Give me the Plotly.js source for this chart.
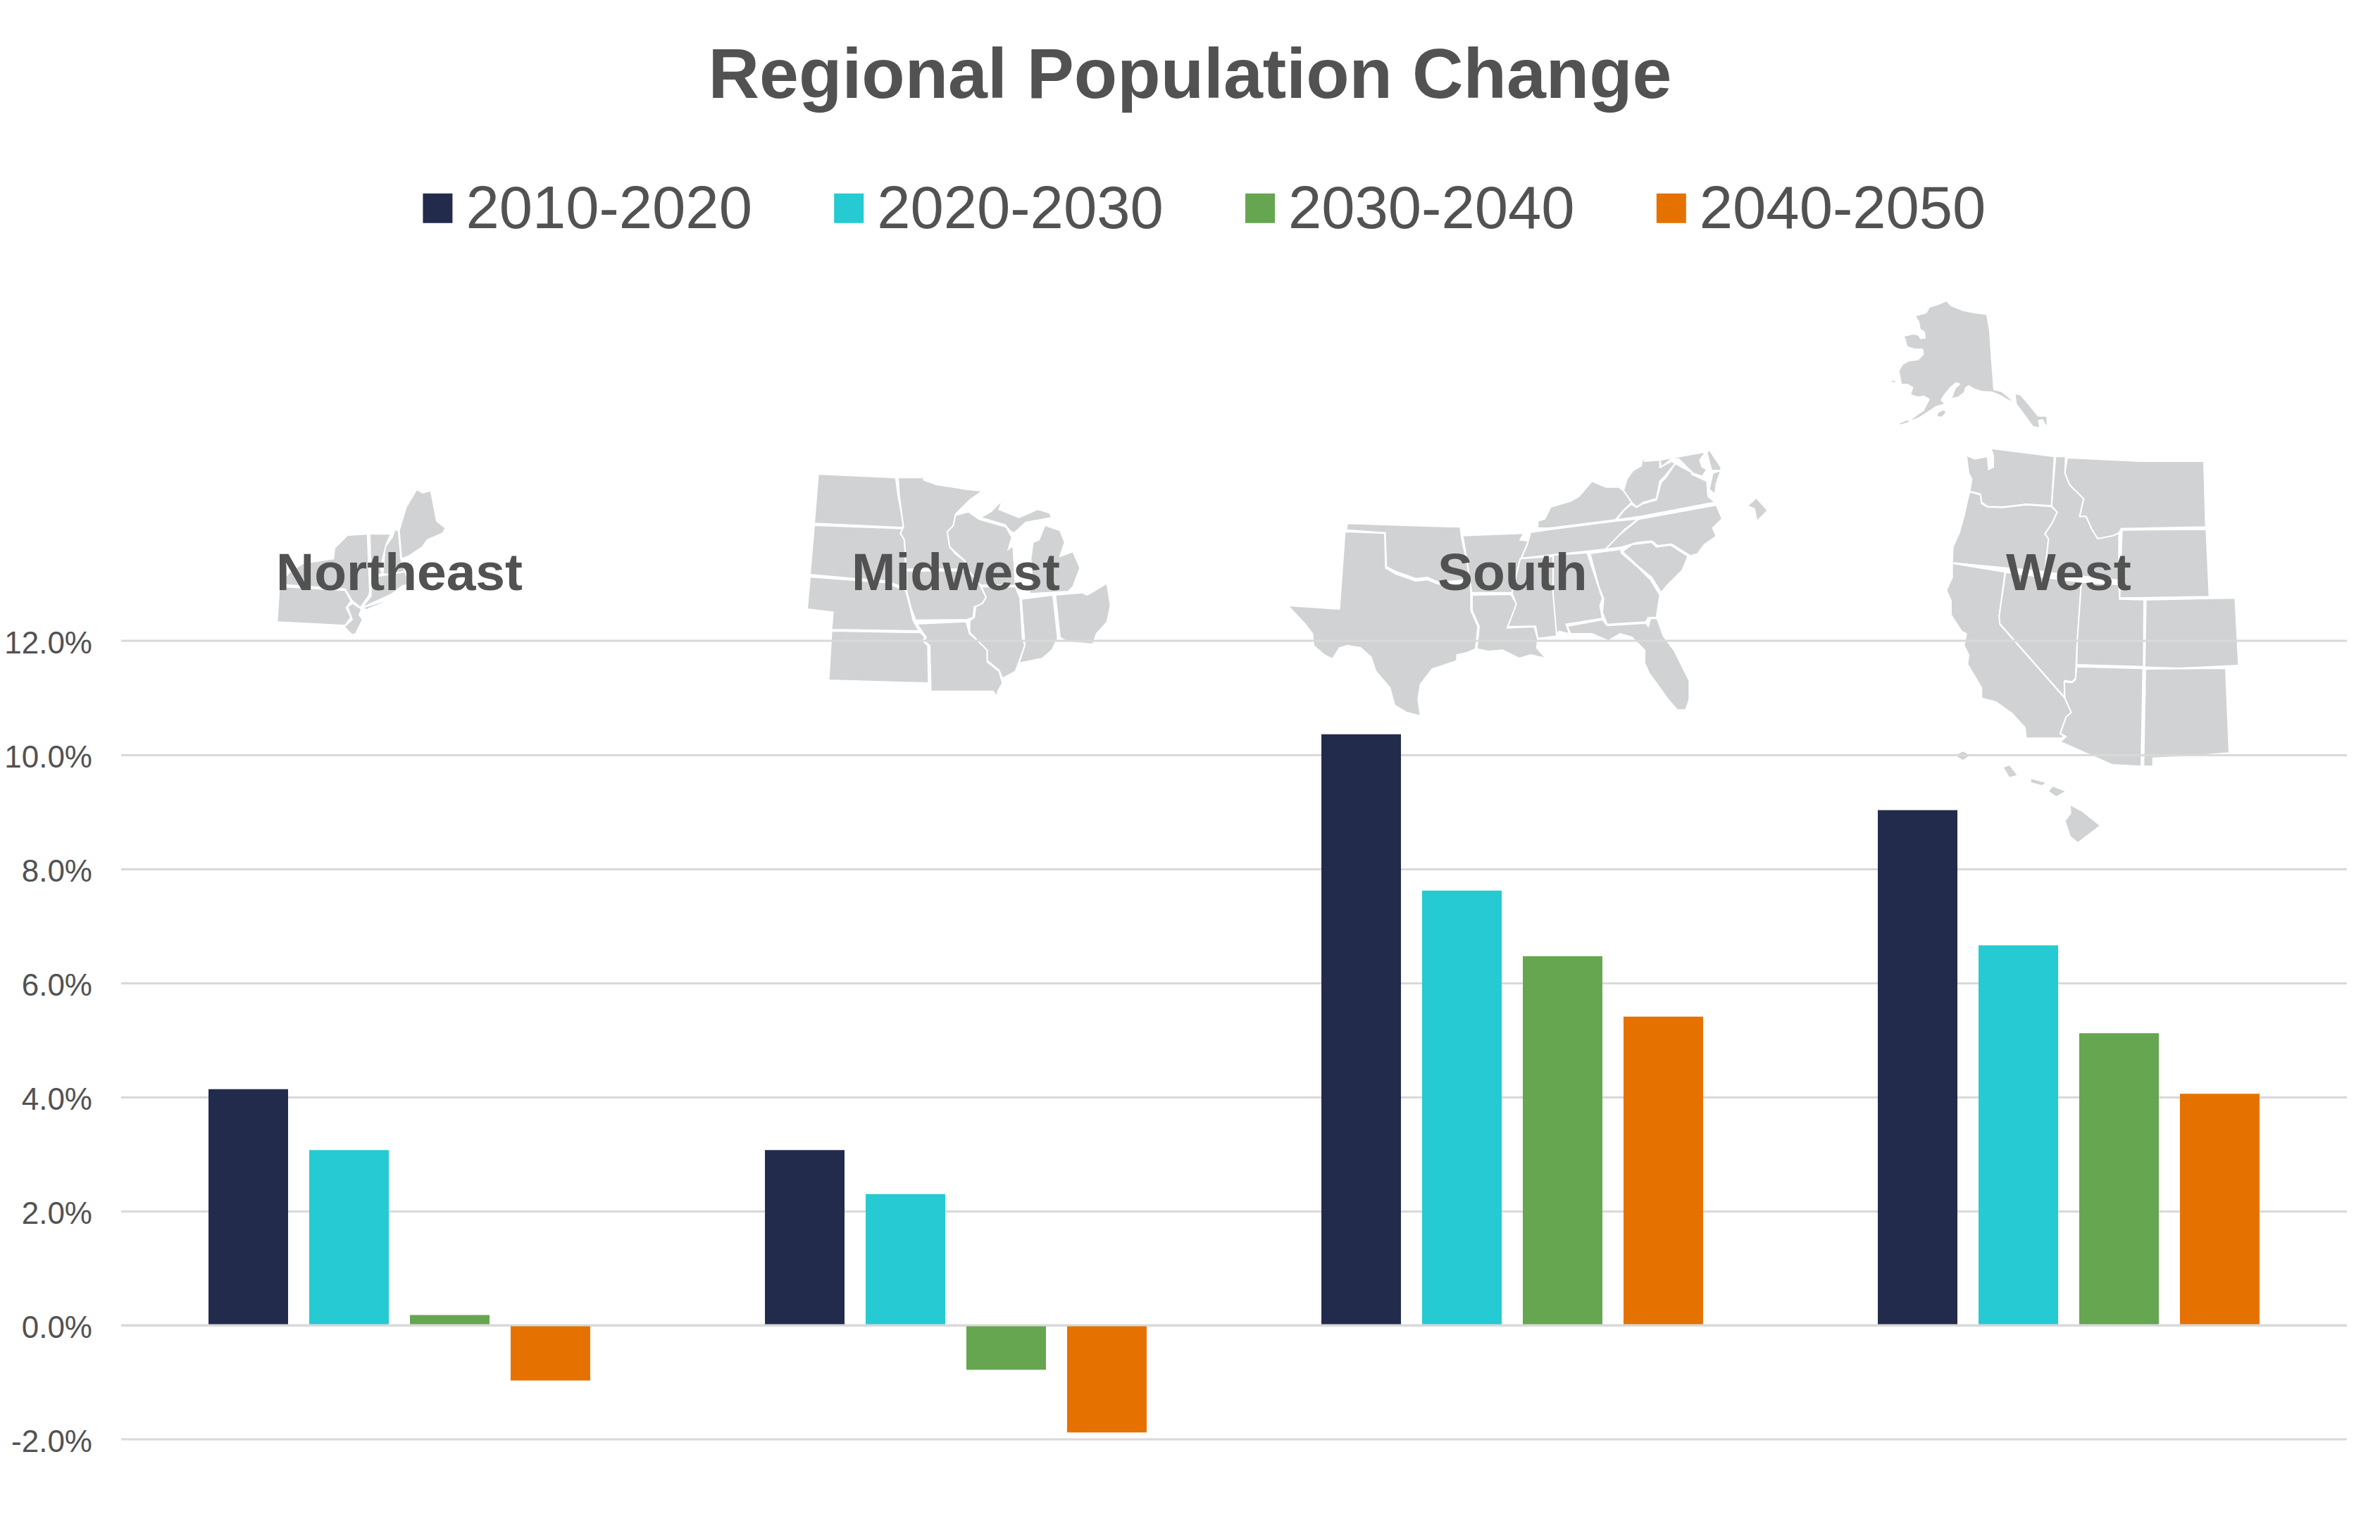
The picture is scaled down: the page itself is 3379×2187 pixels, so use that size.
<!DOCTYPE html>
<html>
<head>
<meta charset="utf-8">
<script src="https://cdn.plot.ly/plotly-3.0.1.min.js"></script>
<style>html,body{margin:0;padding:0;background:#fff}#chart{width:3379px;height:2187px}</style>
</head>
<body>
<div id="chart"></div>
<script>
// ---- chart data ----
const regions = ["Northeast", "Midwest", "South", "West"];
const seriesNames = ["2010-2020", "2020-2030", "2030-2040", "2040-2050"];
const v2010 = [4.14, 3.07, 10.36, 9.03];
const v2020 = [3.07, 2.30, 7.62, 6.66];
const v2030 = [0.18, -0.78, 6.47, 5.12];
const v2040 = [-0.97, -1.88, 5.41, 4.06];
const tickValues = [-2, 0, 2, 4, 6, 8, 10, 12];
const tickLabels = ["-2.0%", "0.0%", "2.0%", "4.0%", "6.0%", "8.0%", "10.0%", "12.0%"];

// ---- decorative map outlines: each group is traced in its own 3x crop space ----
const mapGroups = [
 {ox: 2660, oy: 410, states: [], islands: [ // Alaska
  [[310,55],[330,75],[380,95],[430,105],[480,112],[492,180],[500,300],[510,432],[545,440],[575,465],[590,480],[570,470],[540,452],[505,438],[460,435],[430,425],[405,410],[390,420],[385,440],[360,460],[335,465],[350,425],[372,405],[350,398],[325,420],[300,450],[285,475],[300,490],[265,500],[220,530],[190,550],[160,560],[185,540],[215,520],[240,470],[215,455],[190,460],[160,450],[170,420],[145,405],[120,405],[110,350],[125,325],[150,310],[190,305],[215,280],[210,255],[175,255],[145,245],[135,210],[130,205],[170,195],[190,200],[200,215],[222,212],[220,185],[200,170],[195,140],[180,118],[225,105],[240,80],[275,70]],
  [[275,530],[295,518],[308,525],[290,545],[272,542]],
  [[110,575],[145,560],[150,568],[115,578]],
  [[75,390],[95,395],[85,400]],
  [[605,450],[625,455],[655,490],[700,545],[735,545],[738,585],[720,555],[700,560],[705,590],[680,585],[640,530],[610,490]]
 ]},
 {ox: 2760, oy: 630, islands: [], states: [ // West
  [[95,50],[130,65],[185,55],[190,110],[210,100],[210,50],[200,20],[470,55],[458,265],[350,258],[250,270],[185,268],[160,250],[155,215],[110,203],[118,150],[105,125]],
  [[110,205],[155,218],[160,255],[185,270],[250,272],[350,260],[458,268],[482,292],[460,340],[430,385],[445,405],[430,545],[35,508],[38,440],[65,380],[85,310],[100,240]],
  [[475,55],[518,55],[515,125],[535,175],[595,235],[578,310],[605,310],[630,365],[655,405],[720,392],[745,380],[745,582],[430,548],[445,405],[430,385],[460,340],[482,292],[458,265]],
  [[525,60],[830,75],[1107,75],[1115,355],[755,362],[745,380],[720,392],[655,405],[630,365],[605,310],[578,310],[595,235],[535,175],[515,125]],
  [[758,368],[1117,365],[1130,652],[748,658]],
  [[35,510],[260,547],[235,735],[238,770],[515,1085],[542,1145],[520,1165],[495,1235],[515,1250],[495,1255],[350,1255],[345,1210],[290,1150],[220,1100],[160,1085],[160,1040],[100,940],[105,900],[85,860],[95,810],[75,800],[30,730],[30,670],[10,625],[35,570]],
  [[262,548],[585,590],[567,850],[560,1000],[545,1015],[515,1010],[512,1080],[238,768],[235,735]],
  [[585,590],[745,600],[748,662],[852,665],[850,950],[565,942],[567,850]],
  [[860,665],[1240,658],[1255,945],[1000,957],[855,952]],
  [[565,950],[848,958],[840,1375],[715,1368],[495,1270],[520,1248],[495,1235],[520,1165],[542,1145],[515,1085],[512,1015],[545,1018],[560,1005]],
  [[858,960],[1200,957],[1215,1318],[1000,1335],[890,1340],[890,1375],[850,1375]]
 ]},
 {ox: 1700, oy: 380, sx: 0.98, sy: 1.845, states: [], islands: [ // Hawaii
  [[1215,1410],[1230,1425],[1255,1462],[1225,1505],[1215,1490],[1208,1450],[1216,1430]],
  [[1190,1360],[1207,1372],[1195,1385],[1185,1372]],
  [[1122,1310],[1130,1305],[1140,1330],[1130,1335]],
  [[1055,1278],[1065,1268],[1075,1278],[1065,1290]],
  [[1160,1340],[1180,1350],[1175,1356],[1160,1348]]
 ]},
 {ox: 1820, oy: 730, islands: [], states: [ // South, western half
  [[278,40],[520,48],[760,55],[765,100],[780,170],[805,280],[740,285],[665,290],[620,270],[570,275],[485,245],[445,225],[440,80],[275,68]],
  [[272,75],[438,82],[442,230],[485,255],[570,285],[620,280],[665,298],[740,295],[805,300],[805,410],[835,480],[825,575],[790,590],[745,600],[745,625],[640,660],[590,725],[580,790],[590,860],[530,845],[480,815],[460,740],[400,670],[380,610],[335,570],[280,560],[245,570],[215,618],[180,600],[135,560],[130,510],[100,470],[25,390],[245,405],[268,80]],
  [[770,92],[1030,82],[1015,110],[1050,115],[1010,210],[980,335],[808,335],[785,180]],
  [[810,345],[975,342],[1000,385],[960,485],[1075,480],[1090,535],[1085,570],[1125,615],[1060,600],[1010,615],[940,580],[880,585],[830,575],[840,480],[810,410]],
  [[1015,190],[1160,180],[1170,520],[1090,530],[1080,478],[962,480],[998,385],[980,335]]
 ]},
 {ox: 2160, oy: 630, islands: [[[968,265],[1000,235],[1045,285],[1005,325],[995,275]]], states: [ // South, eastern half
  [[300,160],[360,185],[415,185],[435,200],[470,250],[430,290],[400,325],[120,360],[70,360],[70,330],[100,320],[125,270],[210,245],[245,225],[275,190]],
  [[520,50],[525,75],[590,70],[590,100],[640,75],[655,85],[610,140],[590,160],[575,235],[520,250],[490,270],[470,250],[435,200],[450,150],[475,115],[510,95]],
  [[655,85],[730,125],[725,130],[790,160],[795,225],[825,250],[510,310],[405,325],[440,280],[470,258],[490,272],[520,255],[575,240],[595,165],[615,145]],
  [[590,70],[785,35],[760,70],[770,100],[790,110],[770,140],[730,125],[670,65],[640,65],[595,100]],
  [[800,25],[850,100],[850,115],[810,115],[790,40]],
  [[815,125],[850,115],[830,170],[825,215],[800,195]],
  [[830,262],[855,320],[815,360],[830,395],[780,430],[750,470],[720,478],[640,428],[580,435],[555,415],[490,422],[430,440],[360,450],[360,435],[440,370],[500,322]],
  [[430,460],[470,430],[555,420],[575,440],[635,432],[710,480],[685,540],[620,605],[595,635],[555,570],[500,525]],
  [[292,468],[425,450],[425,465],[500,530],[550,580],[590,645],[575,740],[540,742],[530,760],[365,770],[345,720],[350,660],[330,610]],
  [[135,475],[280,465],[345,660],[335,690],[345,745],[190,770],[205,810],[160,800],[150,815],[135,640]],
  [[39,378],[125,365],[400,330],[500,320],[440,365],[358,450],[0,488],[25,430]],
  [[195,778],[345,750],[365,775],[530,765],[540,778],[550,745],[578,745],[605,820],[650,880],[715,1010],[715,1090],[700,1135],[665,1135],[625,1090],[575,1020],[545,980],[525,935],[525,880],[470,825],[420,810],[370,840],[300,810],[210,810]]
 ]},
 {ox: 1140, oy: 660, islands: [], states: [ // Midwest
  [[65,40],[395,55],[405,130],[422,220],[428,268],[48,250]],
  [[48,258],[428,272],[415,292],[432,320],[435,370],[437,525],[350,495],[220,485],[30,468]],
  [[30,478],[220,492],[350,502],[437,535],[455,600],[470,665],[490,700],[500,708],[122,702],[128,628],[18,615]],
  [[122,708],[500,715],[520,735],[510,750],[532,770],[535,930],[110,918]],
  [[405,55],[505,55],[505,25],[515,65],[570,85],[640,95],[700,105],[765,112],[710,150],[650,210],[640,260],[615,285],[625,350],[650,380],[690,410],[700,445],[440,445],[432,320],[415,292],[428,265],[410,130]],
  [[440,452],[705,452],[755,515],[780,565],[760,595],[730,605],[725,650],[700,660],[480,662],[460,610],[440,530]],
  [[485,678],[695,668],[710,720],[745,750],[785,790],[785,840],[835,880],[850,930],[830,965],[828,990],[810,965],[545,965],[540,770],[515,750],[525,735]],
  [[650,215],[705,200],[750,232],[865,265],[890,310],[875,360],[895,345],[905,515],[755,512],[700,445],[690,410],[625,350],[615,285],[640,260]],
  [[760,520],[905,520],[925,570],[935,740],[945,770],[920,840],[905,880],[850,910],[835,875],[785,835],[785,790],[745,750],[710,715],[710,665],[730,650],[735,605],[765,590],[780,565]],
  [[930,572],[1065,555],[1085,740],[1060,790],[1020,825],[920,845],[945,770]],
  [[1075,555],[1190,545],[1210,555],[1295,505],[1310,600],[1295,670],[1250,720],[1235,765],[1180,760],[1125,755],[1095,735]],
  [[755,225],[800,200],[850,150],[835,190],[920,225],[1000,190],[1050,205],[1060,225],[1010,235],[950,245],[900,290],[885,285],[860,255]],
  [[1030,258],[1095,280],[1115,330],[1095,390],[1150,370],[1180,440],[1150,520],[1130,540],[965,550],[975,470],[970,400],[980,330],[1005,320]]
 ]},
 {ox: 380, oy: 680, islands: [[[410,550],[500,522],[470,535],[420,555]]], states: [ // Northeast
  [[635,45],[660,60],[695,50],[720,180],[758,210],[745,232],[680,260],[660,290],[600,330],[570,340],[560,220],[590,120]],
  [[543,212],[558,225],[568,345],[585,395],[530,410],[490,405],[500,290],[530,250]],
  [[435,235],[525,235],[505,280],[490,340],[482,385],[490,405],[440,415]],
  [[440,420],[585,395],[600,430],[620,450],[575,455],[530,490],[400,550],[440,500]],
  [[340,240],[425,235],[435,480],[430,500],[395,548],[360,520],[330,470],[50,450],[90,400],[150,360],[280,340],[285,295]],
  [[50,458],[330,475],[355,520],[335,550],[355,590],[330,625],[40,610]],
  [[362,530],[400,555],[390,580],[405,600],[375,660],[360,665],[325,630],[360,600],[340,545]]
 ]}
];

// ---- layout geometry (page pixels) ----
const W = 3379, H = 2187, plotL = 172, plotR = 3332, plotT = 910, plotB = 2044;
const yMin = -2, yMax = 12;
const px = x => (x - plotL) / (plotR - plotL);
const py = y => (plotB - y) / (plotB - plotT);
const mapShapes = [];
mapGroups.forEach(g => {
  const sx = g.sx || 3, sy = g.sy || 3;
  const toPath = poly => poly.map((p, i) =>
    (i ? "L" : "M") + px(g.ox + p[0] / sx).toFixed(5) + " " + py(g.oy + p[1] / sy).toFixed(5)).join(" ") + " Z";
  g.states.forEach(p => mapShapes.push({type: "path", xref: "paper", yref: "paper", layer: "below", path: toPath(p),
    fillcolor: "#D0D2D3", line: {color: "#FFFFFF", width: 2}}));
  g.islands.forEach(p => mapShapes.push({type: "path", xref: "paper", yref: "paper", layer: "below", path: toPath(p),
    fillcolor: "#D0D2D3", line: {width: 0}}));
});

const colors = ["#222B4C", "#25CAD3", "#66A650", "#E57200"];
const textColor = "#525252";
const gridColor = "#D9D9D9";
const allValues = [v2010, v2020, v2030, v2040];
const traces = seriesNames.map((name, i) => ({
  type: "bar", name, x: regions, y: allValues[i],
  marker: {color: colors[i], line: {width: 0}}, hoverinfo: "skip"
}));
const sans = "'Liberation Sans', Arial, sans-serif";

const layout = {
  width: W, height: H,
  margin: {l: plotL, r: W - plotR, t: plotT, b: H - plotB, pad: 0, autoexpand: false},
  paper_bgcolor: "#FFFFFF", plot_bgcolor: "rgba(0,0,0,0)",
  font: {family: sans, color: textColor},
  barmode: "group", bargap: 0.276, bargroupgap: 0.21,
  title: {text: "Regional Population Change", x: 0.5, xref: "container", xanchor: "center",
          y: 1 - 104 / H, yref: "container", yanchor: "middle",
          font: {family: sans, size: 100.5, weight: 700, color: textColor}},
  legend: {orientation: "h", x: 0.1771, y: 1 - 291 / H, xref: "container", yref: "container",
           xanchor: "left", yanchor: "middle", itemwidth: 53, entrywidth: 515.8, entrywidthmode: "pixels",
           font: {size: 85, color: textColor, family: sans},
           bgcolor: "rgba(0,0,0,0)", traceorder: "normal", itemclick: false, itemdoubleclick: false},
  xaxis: {type: "category", showticklabels: false, ticks: "", showgrid: false, zeroline: false, showline: false,
          range: [-0.5, 3.5]},
  yaxis: {range: [yMin, yMax], tickmode: "array", tickvals: tickValues, ticktext: tickLabels,
          tickfont: {size: 44, color: textColor}, ticks: "", ticklabelstandoff: 40, ticklabelshift: 3,
          showgrid: true, gridcolor: gridColor, gridwidth: 3, zeroline: false, showline: false},
  shapes: [
    ...mapShapes,
    ...[yMin, yMax].map(v => {
      const f = (v - yMin) / (yMax - yMin);
      return {type: "line", xref: "paper", yref: "paper", x0: 0, x1: 1, y0: f, y1: f, layer: "below",
              line: {color: gridColor, width: 3}};
    }),
    {type: "line", xref: "paper", yref: "y", x0: 0, x1: 1, y0: 0, y1: 0, layer: "above",
     line: {color: gridColor, width: 3}}
  ],
  annotations: regions.map(r => ({
    text: r, xref: "x", x: r, yref: "paper", y: py(812), xanchor: "center", yanchor: "middle", showarrow: false,
    font: {family: sans, size: 75, weight: 700, color: textColor}
  }))
};

Plotly.newPlot("chart", traces, layout, {displayModeBar: false, staticPlot: true}).then(() => {
  // enlarge the legend swatches to the reference's 42px squares
  document.querySelectorAll(".legend .legendbar path, .legend .legendpoints path").forEach(p => {
    p.setAttribute("transform", "translate(23,5) scale(3.5)");
  });
});
</script>
</body>
</html>
